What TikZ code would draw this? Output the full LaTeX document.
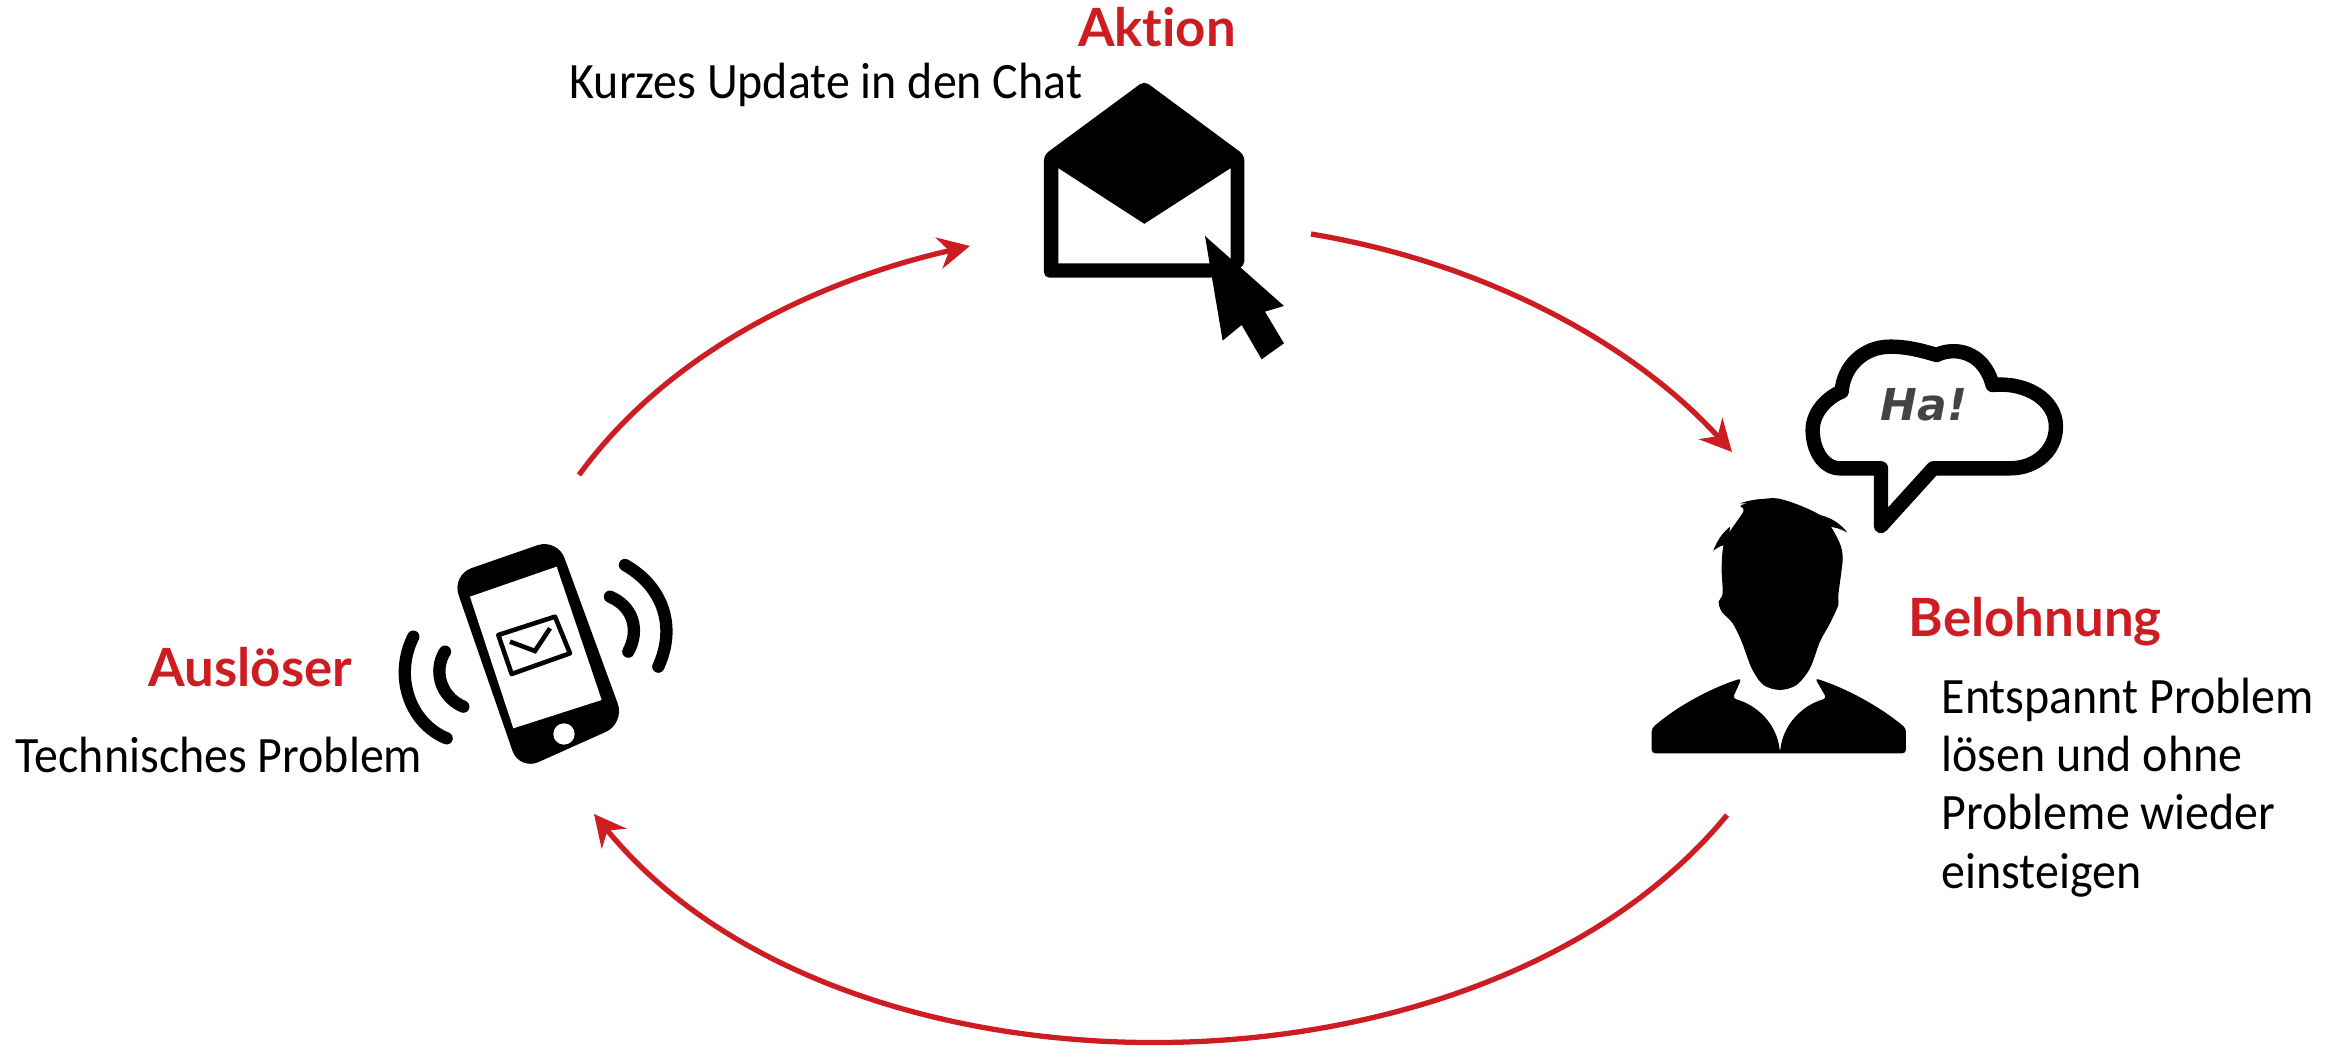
\documentclass[tikz,border=0pt]{standalone}
\usepackage{fontspec}
\setmainfont[FakeStretch=0.94]{Carlito}
\newfontfamily\headfont[Ligatures=NoCommon]{Lato}
\newfontfamily\hafont{DejaVu Sans}
\usetikzlibrary{arrows.meta}
\definecolor{loopred}{RGB}{205,28,34}
\definecolor{hagray}{RGB}{68,68,68}
\tikzset{
  flow/.style={loopred, line width=1.5pt, -{Stealth[length=9pt, width=9pt]}},
  head/.style={loopred, font=\headfont\bfseries\fontsize{15}{16}\selectfont, inner sep=0pt},
  body/.style={black, font=\fontsize{14.5}{16.6}\selectfont, inner sep=0pt},
  wave/.style={line width=3.5pt, line cap=round}
}
\begin{document}
\begin{tikzpicture}[x=0.01cm, y=-0.01cm]
    \useasboundingbox (0,0) rectangle (2341,1048);

    % Ends of the loop arrows
    \coordinate (phoneOut) at (579,475);
    \coordinate (mailIn) at (970,246);
    \coordinate (mailOut) at (1311,234);
    \coordinate (personIn) at (1732,452);
    \coordinate (personOut) at (1727,815);
    \coordinate (phoneIn) at (594,814);

    % Loop arrows
    \draw[flow] (phoneOut) .. controls (670,350) and (820,280) .. (mailIn);
    \draw[flow] (mailOut) .. controls (1480,262) and (1630,340) .. (personIn);
    \draw[flow] (personOut) .. controls (1480,1116) and (840,1116) .. (phoneIn);

    % Envelope with cursor
    \begin{scope}[shift={(950,0)}, scale=0.3333]
        \fill[rounded corners=1.5pt] (282,465) -- (583,243) -- (883,465) -- (883,800) -- (790,833) -- (282,833) -- cycle;
        \fill[white] (325,505) -- (583,672) -- (842,505) -- (842,790) -- (325,790) -- cycle;
        \fill (765,708) -- (1002,918) -- (945,935) -- (1002,1030) -- (935,1078) -- (875,975) -- (818,1022) -- cycle;
    \end{scope}

    % Person
    \begin{scope}[shift={(1620,340)}, scale=0.3333]
        \fill plot[smooth cycle, tension=0.5] coordinates {(365,495) (470,475) (600,525) (650,590) (668,650) (655,765) (655,795) (630,850) (600,905) (570,985) (530,1035) (480,1050) (430,1035) (395,985) (365,905) (338,850) (305,815) (296,785) (308,760) (305,680) (315,600) (370,515)};
        \fill (360,490) .. controls (420,470) and (470,475) .. (500,490) -- cycle;
        \fill (600,525) .. controls (640,535) and (665,555) .. (682,578) .. controls (660,565) and (640,560) .. (620,560) -- cycle;
        \fill (650,600) .. controls (665,630) and (670,655) .. (665,682) -- (640,640) -- cycle;
        \fill (330,560) .. controls (305,580) and (290,605) .. (280,632) .. controls (295,620) and (310,615) .. (325,612) -- cycle;
        \fill[rounded corners=1pt] (95,1165) .. controls (170,1100) and (270,1045) .. (365,1015) -- (338,1075) .. controls (410,1095) and (470,1150) .. (480,1238) .. controls (490,1150) and (550,1095) .. (620,1075) -- (585,1015) .. controls (680,1045) and (780,1100) .. (858,1165) -- (858,1240) -- (95,1240) -- cycle;
    \end{scope}

    % Speech cloud
    \begin{scope}[shift={(1620,340)}, scale=0.3333]
        \draw[line width=4.1pt, line join=round] (783,558) -- (783,385) -- (660,385) .. controls (610,385) and (578,330) .. (578,270) .. controls (578,215) and (625,170) .. (665,155) .. controls (670,80) and (730,20) .. (810,20) .. controls (860,20) and (900,30) .. (950,45) .. controls (1000,20) and (1090,30) .. (1118,135) .. controls (1220,125) and (1308,180) .. (1308,260) .. controls (1308,330) and (1250,385) .. (1170,385) -- (940,385) -- cycle;
    \end{scope}
    \node[hagray, font=\hafont\bfseries\itshape\fontsize{12.5}{16}\selectfont, inner sep=0pt] (haText) at (1924,405) {Ha!};

    % Phone
    \begin{scope}[shift={(380,520)}, scale=0.3333]
        \fill[rounded corners=6pt] (215,165) -- (532,55) -- (735,610) -- (418,752) -- cycle;
        \fill[white] (270,230) -- (530,140) -- (665,540) -- (400,625) -- cycle;
        \fill[white] (552,642) circle (32);
        \draw[line width=1.3pt, line join=round] (355,345) -- (525,290) -- (570,400) -- (395,462) -- cycle;
        \draw[line width=1.3pt] (390,365) -- (465,393) -- (510,325);
        \draw[wave] (735,135) .. controls (850,200) and (890,320) .. (835,440);
        \draw[wave] (690,230) .. controls (760,260) and (780,330) .. (745,395);
        \draw[wave] (195,395) .. controls (160,450) and (180,530) .. (250,560);
        \draw[wave] (100,350) .. controls (40,470) and (90,610) .. (200,655);
    \end{scope}

    % Labels
    \node[head] (actionHead) at (1157,27) {Aktion};
    \node[head, anchor=west] (triggerHead) at (148,667) {Auslöser};
    \node[head, anchor=west] (rewardHead) at (1908,622) {Belohnung};
    \node[body, anchor=base west] (actionText) at (569,98) {Kurzes Update in den Chat};
    \node[body, anchor=base west] (triggerText) at (15,772) {Technisches Problem};
    \node[body, anchor=north west, align=left] (rewardText) at (1941,677) {Entspannt Problem\\lösen und ohne\\Probleme wieder\\einsteigen};
\end{tikzpicture}
\end{document}
